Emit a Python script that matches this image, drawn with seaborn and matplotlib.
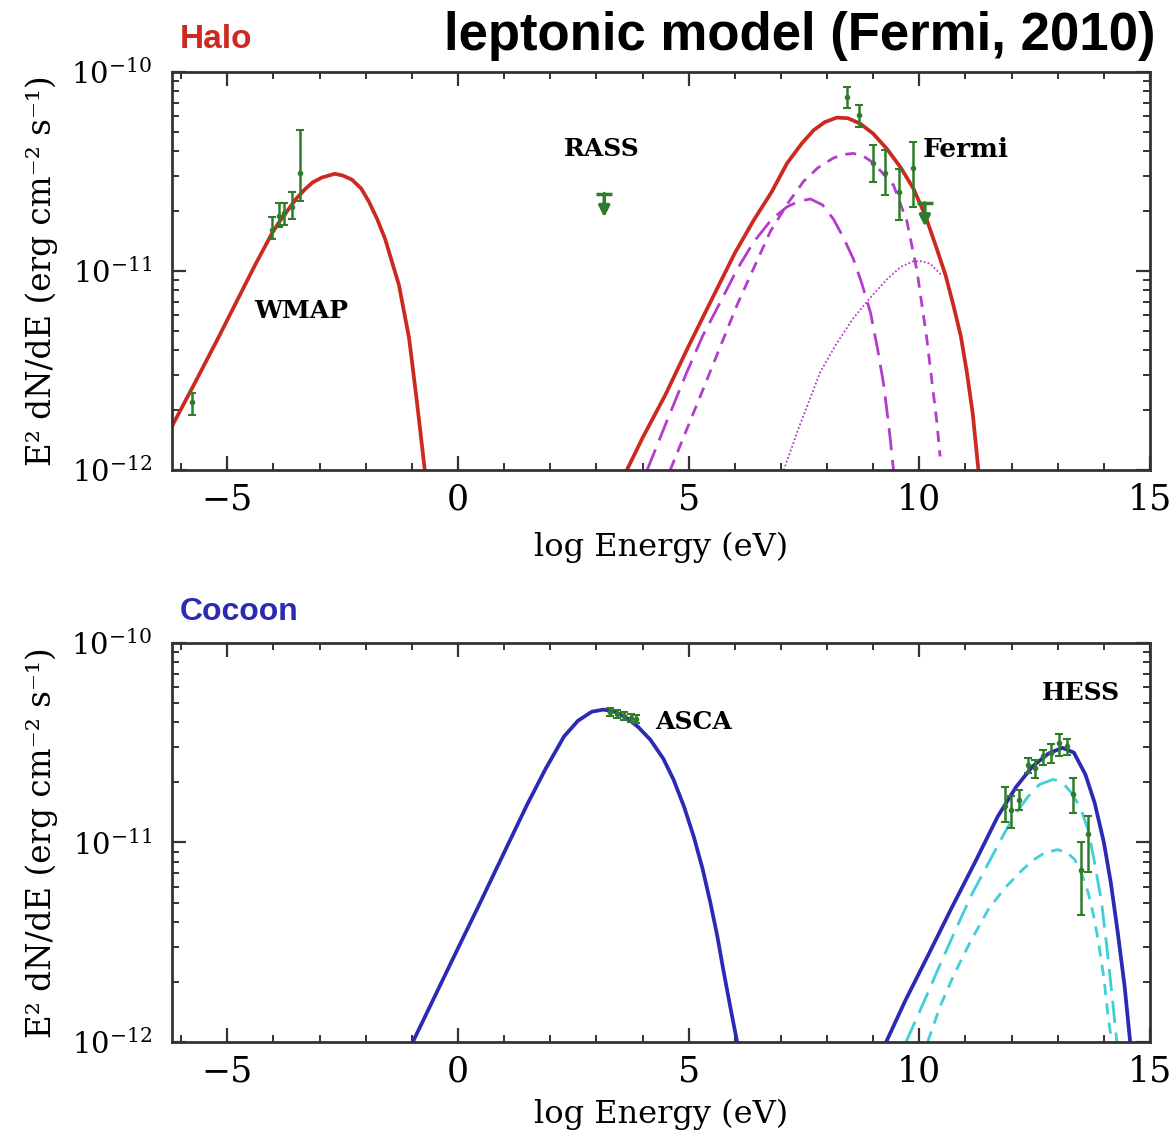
import matplotlib.pyplot as plt
import matplotlib.ticker as mticker
import numpy as np
import pandas as pd
import seaborn as sns

# ---- Halo panel ----
halo_sync_x = [-6.2, -5.7, -5.2, -4.75, -4.4, -4.03, -3.85, -3.67, -3.5, -3.32, -3.15, -2.95, -2.67, -2.5,
               -2.3, -2.1, -1.93, -1.75, -1.58, -1.28, -1.06, -0.89, -0.72]
halo_sync_y = [1.66e-12, 2.75e-12, 4.6e-12, 7.4e-12, 1.07e-11, 1.55e-11, 1.8e-11, 2.05e-11, 2.32e-11, 2.57e-11,
               2.79e-11, 2.95e-11, 3.08e-11, 3.02e-11, 2.88e-11, 2.6e-11, 2.23e-11, 1.82e-11, 1.45e-11,
               8.5e-12, 4.6e-12, 2.2e-12, 1.0e-12]

halo_ic_x = [3.66, 4.0, 4.5, 5.0, 5.5, 6.0, 6.41, 6.8, 7.13, 7.45, 7.71, 7.95, 8.21, 8.45, 8.72, 9.0, 9.3,
             9.6, 9.87, 10.13, 10.38, 10.57, 10.74, 10.9, 11.03, 11.16, 11.28]
halo_ic_y = [1.0e-12, 1.45e-12, 2.4e-12, 4.2e-12, 7.2e-12, 1.23e-11, 1.8e-11, 2.5e-11, 3.47e-11, 4.37e-11,
             5.1e-11, 5.6e-11, 5.9e-11, 5.86e-11, 5.5e-11, 4.9e-11, 4.1e-11, 3.3e-11, 2.6e-11, 1.9e-11,
             1.29e-11, 9.5e-12, 6.7e-12, 4.7e-12, 3.1e-12, 1.9e-12, 1.0e-12]

halo_cmb_x = [4.1, 4.5, 4.96, 5.3, 5.69, 6.05, 6.41, 6.8, 7.13, 7.4, 7.64, 7.9, 8.14, 8.35, 8.57, 8.75,
              8.94, 9.1, 9.22, 9.34, 9.44]
halo_cmb_y = [1.0e-12, 1.7e-12, 3.1e-12, 4.7e-12, 7.0e-12, 1.02e-11, 1.4e-11, 1.82e-11, 2.1e-11, 2.25e-11,
              2.3e-11, 2.15e-11, 1.82e-11, 1.48e-11, 1.15e-11, 8.7e-12, 6.2e-12, 4.0e-12, 2.75e-12,
              1.66e-12, 1.0e-12]

halo_ir_x = [4.6, 5.32, 6.05, 6.77, 7.15, 7.49, 7.8, 8.14, 8.35, 8.57, 8.8, 9.0, 9.44, 9.73, 9.95, 10.16,
             10.38, 10.45]
halo_ir_y = [1.0e-12, 2.57e-12, 6.76e-12, 1.58e-11, 2.19e-11, 2.82e-11, 3.3e-11, 3.7e-11, 3.85e-11, 3.9e-11,
             3.76e-11, 3.5e-11, 2.7e-11, 1.78e-11, 1.0e-11, 4.6e-12, 1.74e-12, 1.17e-12]

halo_opt_x = [7.06, 7.4, 7.85, 8.2, 8.57, 8.95, 9.3, 9.6, 9.87, 10.05, 10.23, 10.49]
halo_opt_y = [1.0e-12, 1.66e-12, 3.1e-12, 4.3e-12, 5.8e-12, 7.4e-12, 9.1e-12, 1.05e-11, 1.12e-11, 1.12e-11,
              1.09e-11, 9.5e-12]

wmap_x = [-5.77, -4.03, -3.88, -3.77, -3.59, -3.43]
wmap_y = [2.2e-12, 1.6e-11, 1.9e-11, 1.95e-11, 2.1e-11, 3.1e-11]
wmap_lo = [1.9e-12, 1.45e-11, 1.66e-11, 1.7e-11, 1.82e-11, 2.24e-11]
wmap_hi = [2.45e-12, 1.86e-11, 2.2e-11, 2.2e-11, 2.5e-11, 5.1e-11]

fermi_x = [8.43, 8.7, 8.99, 9.26, 9.57, 9.86]
fermi_y = [7.5e-11, 6.1e-11, 3.5e-11, 3.1e-11, 2.5e-11, 3.3e-11]
fermi_lo = [6.6e-11, 5.3e-11, 2.8e-11, 2.4e-11, 1.8e-11, 2.1e-11]
fermi_hi = [8.4e-11, 6.8e-11, 4.3e-11, 4.05e-11, 3.25e-11, 4.45e-11]

halo_ul_x = [3.17, 10.12]
halo_ul_y = [2.45e-11, 2.2e-11]

# ---- Cocoon panel ----
coc_sync_x = [-0.98, -0.5, 0.0, 0.5, 1.0, 1.5, 1.9, 2.3, 2.6, 2.9, 3.15, 3.4, 3.66, 3.9, 4.17, 4.45, 4.67,
              4.9, 5.11, 5.3, 5.47, 5.62, 5.76, 5.9, 6.05]
coc_sync_y = [1.0e-12, 1.7e-12, 2.95e-12, 5.1e-12, 8.9e-12, 1.55e-11, 2.34e-11, 3.4e-11, 4.07e-11, 4.52e-11,
              4.63e-11, 4.52e-11, 4.2e-11, 3.8e-11, 3.27e-11, 2.63e-11, 2.07e-11, 1.51e-11, 1.07e-11,
              7.4e-12, 5.0e-12, 3.4e-12, 2.24e-12, 1.51e-12, 1.0e-12]

coc_ic_x = [9.28, 9.7, 10.2, 10.7, 11.2, 11.7, 12.1, 12.45, 12.8, 13.1, 13.35, 13.6, 13.8, 14.0, 14.15,
            14.3, 14.45, 14.57]
coc_ic_y = [1.0e-12, 1.62e-12, 2.75e-12, 4.7e-12, 7.9e-12, 1.35e-11, 1.9e-11, 2.4e-11, 2.79e-11, 2.98e-11,
            2.82e-11, 2.19e-11, 1.58e-11, 1.0e-11, 6.3e-12, 3.55e-12, 1.9e-12, 1.0e-12]

coc_cmb_x = [9.71, 10.0, 10.4, 10.75, 11.12, 11.5, 11.85, 12.1, 12.36, 12.6, 12.9, 13.1, 13.3, 13.5, 13.66,
             13.8, 13.95, 14.05, 14.17, 14.28]
coc_cmb_y = [1.0e-12, 1.41e-12, 2.3e-12, 3.5e-12, 5.4e-12, 7.9e-12, 1.12e-11, 1.41e-11, 1.7e-11, 1.95e-11,
             2.07e-11, 2.0e-11, 1.77e-11, 1.48e-11, 1.15e-11, 7.9e-12, 5.0e-12, 3.2e-12, 1.78e-12, 1.0e-12]

coc_ir_x = [10.18, 10.45, 10.76, 11.1, 11.49, 11.85, 12.21, 12.45, 12.72, 13.0, 13.2, 13.37, 13.52, 13.66,
            13.78, 13.88, 14.0, 14.09, 14.17]
coc_ir_y = [1.0e-12, 1.51e-12, 2.2e-12, 3.16e-12, 4.6e-12, 5.9e-12, 7.2e-12, 8.1e-12, 8.9e-12, 9.2e-12,
            8.9e-12, 8.2e-12, 6.9e-12, 5.6e-12, 4.27e-12, 3.2e-12, 2.1e-12, 1.35e-12, 1.0e-12]

asca_x = [3.3, 3.45, 3.6, 3.75, 3.85]
asca_y = [4.5e-11, 4.4e-11, 4.3e-11, 4.2e-11, 4.15e-11]
asca_lo = [4.3e-11, 4.2e-11, 4.1e-11, 4.0e-11, 3.95e-11]
asca_hi = [4.7e-11, 4.6e-11, 4.5e-11, 4.4e-11, 4.35e-11]

hess_x = [11.85, 11.99, 12.17, 12.36, 12.5, 12.68, 12.86, 13.02, 13.19, 13.33, 13.51, 13.66]
hess_y = [1.52e-11, 1.46e-11, 1.64e-11, 2.45e-11, 2.35e-11, 2.7e-11, 2.8e-11, 3.15e-11, 3.05e-11, 1.74e-11,
          7.3e-12, 1.1e-11]
hess_lo = [1.26e-11, 1.18e-11, 1.46e-11, 2.23e-11, 2.1e-11, 2.45e-11, 2.5e-11, 2.7e-11, 2.75e-11, 1.4e-11,
           4.35e-12, 7.1e-12]
hess_hi = [1.9e-11, 1.7e-11, 1.84e-11, 2.65e-11, 2.6e-11, 2.9e-11, 3.1e-11, 3.5e-11, 3.3e-11, 2.1e-11,
           1.01e-11, 1.35e-11]

# axis ticks
x_major = [-5, 0, 5, 10, 15]
x_minor = list(range(-6, 16))
y_major = [1e-12, 1e-11, 1e-10]
y_minor = [m * d for d in (1e-12, 1e-11) for m in range(2, 10)]

RED = '#cc2a20'
MAG = '#b43ccc'
GREEN = '#2f7d2a'
BLUE = '#2a2ab4'
CYAN = '#3fcfd6'

sns.set_theme(style='ticks')
plt.rcParams['font.family'] = ['DejaVu Serif']
plt.rcParams['mathtext.fontset'] = 'dejavuserif'
plt.rcParams.update({
    'text.color': 'black', 'axes.labelcolor': 'black',
    'xtick.direction': 'in', 'ytick.direction': 'in',
    'xtick.top': True, 'ytick.right': True,
    'xtick.major.size': 10, 'ytick.major.size': 10,
    'xtick.minor.size': 5, 'ytick.minor.size': 5,
    'xtick.major.width': 1.6, 'ytick.major.width': 1.6,
    'xtick.minor.width': 1.4, 'ytick.minor.width': 1.4,
    'xtick.color': '#333333', 'ytick.color': '#333333',
    'xtick.labelcolor': 'black', 'ytick.labelcolor': 'black',
    'axes.edgecolor': '#333333', 'axes.linewidth': 2.0,
})

fig = plt.figure(figsize=(11.73, 11.34), dpi=100)
ax1 = fig.add_axes([0.1466, 0.5855, 0.8338, 0.351])
ax2 = fig.add_axes([0.1466, 0.0811, 0.8338, 0.352])


def curve(ax, xs, ys, color, lw, ls='-'):
    df = pd.DataFrame({'x': xs, 'y': ys})
    sns.lineplot(data=df, x='x', y='y', ax=ax, color=color, linewidth=lw,
                 linestyle=ls, sort=False, estimator=None)


def points(ax, xs, ys, lo, hi):
    ys = np.array(ys)
    err = [ys - np.array(lo), np.array(hi) - ys]
    ax.errorbar(xs, ys, yerr=err, fmt='o', ms=3, color=GREEN, ecolor=GREEN,
                elinewidth=1.8, capsize=3, capthick=1.5)


# Halo
curve(ax1, halo_sync_x, halo_sync_y, RED, 2.7)
curve(ax1, halo_ic_x, halo_ic_y, RED, 2.7)
curve(ax1, halo_cmb_x, halo_cmb_y, MAG, 2, (0, (8, 3.5)))
curve(ax1, halo_ir_x, halo_ir_y, MAG, 2, (0, (4, 3)))
curve(ax1, halo_opt_x, halo_opt_y, MAG, 1.3, (0, (1, 1.2)))
points(ax1, wmap_x, wmap_y, wmap_lo, wmap_hi)
points(ax1, fermi_x, fermi_y, fermi_lo, fermi_hi)
for ux, uy in zip(halo_ul_x, halo_ul_y):
    ax1.plot([ux], [uy], marker='_', ms=11, mew=2.5, color=GREEN)
    ax1.annotate('', xy=(ux, uy * 0.76), xytext=(ux, uy),
                 arrowprops=dict(arrowstyle='-|>', color=GREEN, lw=2.5, mutation_scale=16,
                                 shrinkA=0, shrinkB=0))

ax1.text(-3.4, 6.3e-12, 'WMAP', fontsize=18, fontweight='bold', ha='center', va='center')
ax1.text(3.12, 4.1e-11, 'RASS', fontsize=18, fontweight='bold', ha='center', va='center')
ax1.text(10.07, 4.1e-11, 'Fermi', fontsize=19, fontweight='bold', ha='left', va='center')

# Cocoon
curve(ax2, coc_sync_x, coc_sync_y, BLUE, 2.7)
curve(ax2, coc_ic_x, coc_ic_y, BLUE, 2.7)
curve(ax2, coc_cmb_x, coc_cmb_y, CYAN, 2, (0, (8, 3.5)))
curve(ax2, coc_ir_x, coc_ir_y, CYAN, 2, (0, (4, 3)))
points(ax2, asca_x, asca_y, asca_lo, asca_hi)
points(ax2, hess_x, hess_y, hess_lo, hess_hi)

ax2.text(4.27, 4.0e-11, 'ASCA', fontsize=18, fontweight='bold', ha='left', va='center')
ax2.text(13.5, 5.6e-11, 'HESS', fontsize=18, fontweight='bold', ha='center', va='center')

for ax, xlab_y in ((ax1, -0.155), (ax2, -0.143)):
    ax.set_yscale('log')
    ax.set_xlim(-6.2, 15)
    ax.set_ylim(1e-12, 1e-10)
    ax.xaxis.set_major_locator(mticker.FixedLocator(x_major))
    ax.xaxis.set_minor_locator(mticker.FixedLocator(x_minor))
    ax.yaxis.set_major_locator(mticker.FixedLocator(y_major))
    ax.yaxis.set_major_formatter(mticker.LogFormatterSciNotation())
    ax.yaxis.set_minor_locator(mticker.FixedLocator(y_minor))
    ax.yaxis.set_minor_formatter(mticker.NullFormatter())
    ax.tick_params(axis='x', which='major', labelsize=25, pad=9)
    ax.tick_params(axis='y', which='major', labelsize=21, pad=14)
    ax.set_xlabel('log Energy (eV)', fontsize=23)
    ax.set_ylabel('E² dN/dE (erg cm⁻² s⁻¹)', fontsize=23.5)
    ax.xaxis.set_label_coords(0.5, xlab_y)
    ax.yaxis.set_label_coords(-0.117, 0.5)
    for s in ax.spines.values():
        s.set_visible(True)

fig.text(0.153, 0.965, 'Halo', color=RED, fontsize=24, fontweight='bold', va='center',
         family=['Liberation Sans', 'DejaVu Sans'])
fig.text(0.153, 0.46, 'Cocoon', color=BLUE, fontsize=23, fontweight='bold', va='center',
         family=['Liberation Sans', 'DejaVu Sans'])
fig.text(0.985, 0.968, 'leptonic model (Fermi, 2010)', fontsize=38, fontweight='bold',
         ha='right', va='center', family=['Liberation Sans', 'DejaVu Sans'])

fig.savefig('out.png', dpi=100)
